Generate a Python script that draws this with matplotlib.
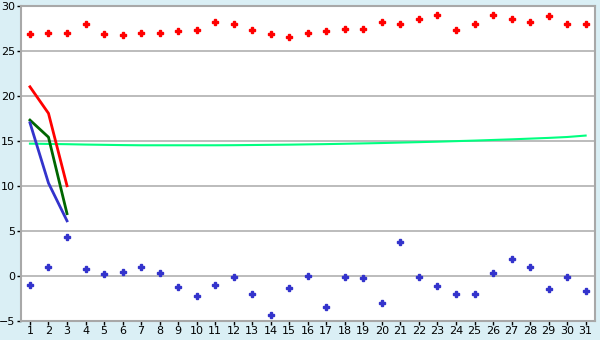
import numpy as np
import matplotlib.pyplot as plt

x = np.arange(1, 32)

red_pts = [26.9, 27.0, 27.0, 28.0, 26.9, 26.8, 27.0, 27.0, 27.25, 27.35,
           28.15, 28.0, 27.35, 26.9, 26.5, 27.0, 27.25, 27.45, 27.45, 28.25,
           28.0, 28.5, 29.0, 27.35, 28.0, 29.0, 28.5, 28.25, 28.9, 28.0, 28.0]
blue_pts = [-1.0, 1.0, 4.35, 0.7, 0.15, 0.45, 1.0, 0.25, -1.2, -2.3,
            -1.0, -0.1, -2.0, -4.4, -1.4, 0.0, -3.5, -0.1, -0.3, -3.0,
            3.7, -0.1, -1.1, -2.0, -2.0, 0.25, 1.9, 1.0, -1.5, -0.1, -1.75]
trend = [14.68, 14.65, 14.62, 14.58, 14.55, 14.52, 14.5, 14.5, 14.5, 14.5,
         14.5, 14.51, 14.53, 14.55, 14.57, 14.6, 14.63, 14.67, 14.71, 14.75,
         14.8, 14.85, 14.9, 14.96, 15.02, 15.09, 15.16, 15.24, 15.32, 15.42, 15.58]

x_short = [1, 2, 3]
red_line = [21.0, 18.05, 10.0]
green_line = [17.3, 15.4, 6.9]
blue_line = [17.0, 10.3, 6.1]

fig = plt.figure(figsize=(6, 3.4), dpi=100, facecolor='#DAEFF5')
ax = fig.add_axes([0.0345, 0.0568, 0.957, 0.926])
ax.set_facecolor('white')

ax.plot(x, trend, color='#00FF80', linewidth=1.5, zorder=2)
ax.plot(x_short, red_line, color='#FF0000', linewidth=2, zorder=3)
ax.plot(x_short, green_line, color='#006600', linewidth=2, zorder=3)
ax.plot(x_short, blue_line, color='#3333CC', linewidth=2, zorder=3)
ax.plot(x, red_pts, linestyle='none', marker='P', markersize=4,
        color='#FF0000', markeredgewidth=1, zorder=4)
ax.plot(x, blue_pts, linestyle='none', marker='P', markersize=4,
        color='#3333CC', markeredgewidth=1, zorder=4)

ax.set_xlim(0.5, 31.5)
ax.set_ylim(-5, 30)
ax.set_xticks(x)
ax.set_yticks(np.arange(-5, 31, 5))
ax.yaxis.grid(True, color='#B0B0B0', linewidth=1.2)
ax.set_axisbelow(True)

for s in ax.spines.values():
    s.set_color('#A8A8A8')
    s.set_linewidth(1.5)

ax.tick_params(axis='both', labelsize=8, length=3, width=1, color='black', pad=1)

plt.savefig('out.png', dpi=100, facecolor=fig.get_facecolor())
